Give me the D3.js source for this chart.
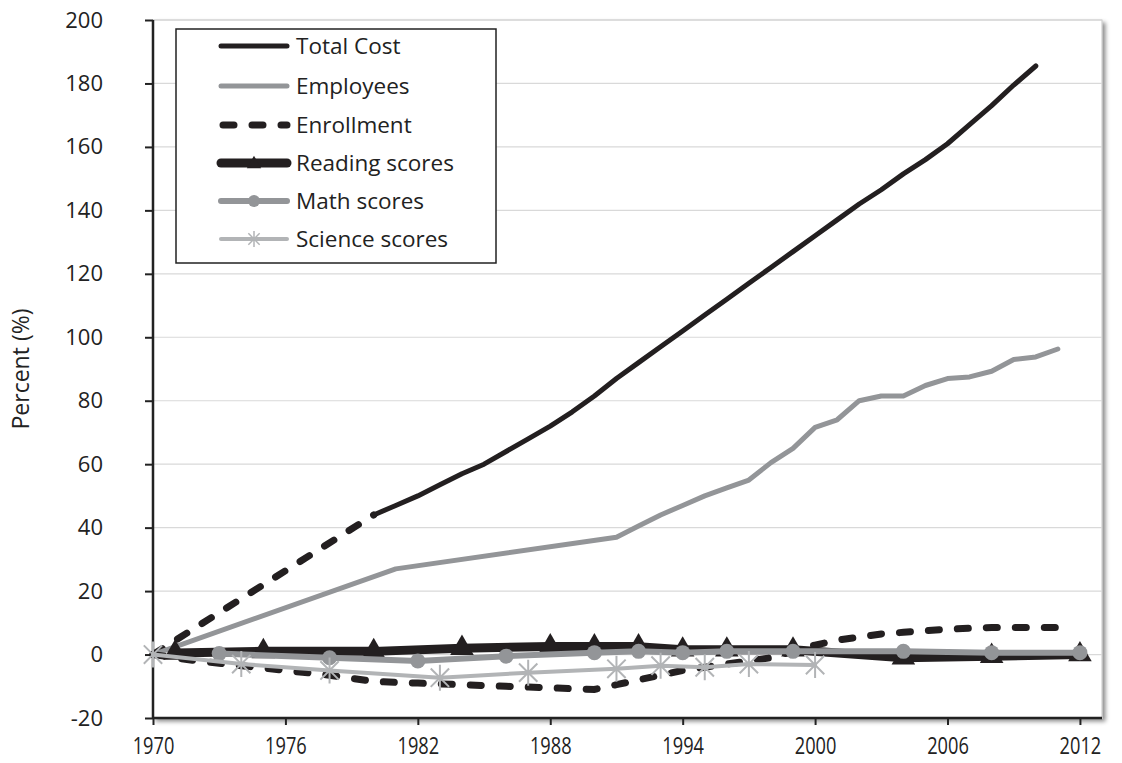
<!DOCTYPE html>
<html>
<head>
<meta charset="utf-8">
<script src="https://cdn.jsdelivr.net/npm/d3@7"></script>
<style>
  body { margin: 0; background: #fff; }
  .legend text { font-family: "Open Sans", sans-serif; font-size: 22.5px; fill: #222; }
</style>
</head>
<body>
<div id="chart"></div>
<script>
// values (percent change since 1970)
var costYears  = [1970, 1975, 1980, 1981, 1982, 1983, 1984, 1985, 1986, 1987, 1988, 1989, 1990, 1991, 1992, 1993, 1994, 1995, 1996, 1997, 1998, 1999, 2000, 2001, 2002, 2003, 2004, 2005, 2006, 2007, 2008, 2009, 2010];
var costValues = [0, 22, 44, 47, 50, 53.5, 57, 60, 64, 68, 72, 76.5, 81.5, 87, 92, 97, 102, 107, 112, 117, 122, 127, 132, 137, 142, 146.5, 151.5, 156, 161, 167, 173, 179.5, 185.5];
var costDashedUntil = 1980;

var empYears  = [1970, 1981, 1991, 1992, 1993, 1994, 1995, 1996, 1997, 1998, 1999, 2000, 2001, 2002, 2003, 2004, 2005, 2006, 2007, 2008, 2009, 2010, 2011];
var empValues = [0, 27, 37, 40.5, 44, 47, 50, 52.5, 55, 60.5, 65, 71.6, 74, 80, 81.5, 81.5, 84.8, 87, 87.5, 89.3, 93, 93.8, 96.3];

var enrYears  = [1970, 1972, 1974, 1976, 1978, 1980, 1982, 1984, 1986, 1988, 1990, 1991, 1992, 1993, 1994, 1995, 1996, 1997, 1998, 1999, 2000, 2001, 2002, 2003, 2004, 2005, 2006, 2007, 2008, 2009, 2010, 2011];
var enrValues = [0, -2, -3.5, -5, -6.5, -8.5, -9, -9.5, -10, -10.5, -11, -9.5, -8, -6.5, -5, -4, -3, -2, -1, 1, 3, 4.5, 5.5, 6.5, 7, 7.5, 8, 8.3, 8.5, 8.5, 8.5, 8.5];

var readYears  = [1971, 1975, 1980, 1984, 1988, 1990, 1992, 1994, 1996, 1999, 2004, 2008, 2012];
var readValues = [0.5, 1, 1, 2, 2.5, 2.5, 2.5, 1.5, 1.5, 1.5, -1, -0.5, 0];

var mathYears  = [1973, 1978, 1982, 1986, 1990, 1992, 1994, 1996, 1999, 2004, 2008, 2012];
var mathValues = [0.3, -1, -2, -0.5, 0.6, 1, 0.6, 1, 1, 1, 0.6, 0.6];

var sciYears  = [1970, 1974, 1978, 1983, 1987, 1991, 1993, 1995, 1997, 2000];
var sciValues = [0, -3, -5, -7.3, -5.7, -4.5, -3.5, -4, -3, -3.3];

var xTicks = [1970, 1976, 1982, 1988, 1994, 2000, 2006, 2012];
var yTicks = [-20, 0, 20, 40, 60, 80, 100, 120, 140, 160, 180, 200];
var legendNames = ["Total Cost", "Employees", "Enrollment", "Reading scores", "Math scores", "Science scores"];

var margin = {top: 20, right: 20, bottom: 45, left: 153};
var width = 949, height = 698;

function pairs(years, values) {
  return years.map(function(y, i) { return {year: y, value: values[i]}; });
}

var svg = d3.select("#chart").append("svg")
  .attr("width", 1122).attr("height", 763);

var defs = svg.append("defs");
var f = defs.append("filter").attr("id", "shadow")
  .attr("x", "-5%").attr("y", "-5%").attr("width", "110%").attr("height", "110%");
f.append("feDropShadow").attr("dx", 3).attr("dy", 3).attr("stdDeviation", 2)
  .attr("flood-color", "#000").attr("flood-opacity", 0.45);

var g = svg.append("g").attr("transform", "translate(" + margin.left + "," + margin.top + ")");

var x = d3.scaleLinear().domain([1970, 2013]).range([0, width]);
var y = d3.scaleLinear().domain([-20, 200]).range([height, 0]);

// plot area with shadow
g.append("rect").attr("width", width).attr("height", height)
  .attr("fill", "#fff").attr("stroke", "#c4c4c4").attr("stroke-width", 1)
  .attr("filter", "url(#shadow)");

// gridlines
g.append("g").selectAll("line")
  .data(yTicks.filter(function(d) { return d > -20; }))
  .enter().append("line")
  .attr("x1", 0).attr("x2", width)
  .attr("y1", function(d) { return y(d); }).attr("y2", function(d) { return y(d); })
  .attr("stroke", "#d9d9d9").attr("stroke-width", 1.2);

// axes
var yAxis = g.append("g")
  .call(d3.axisLeft(y).tickValues(yTicks).tickSize(8).tickPadding(42)
    .tickFormat(function(d) { return String(d); }));
var xAxis = g.append("g")
  .attr("transform", "translate(0," + height + ")")
  .call(d3.axisBottom(x).tickValues(xTicks).tickSize(7).tickPadding(12).tickFormat(d3.format("d")));
[yAxis, xAxis].forEach(function(a) {
  a.select(".domain").attr("stroke", "#222").attr("stroke-width", 2.5);
  a.selectAll(".tick line").attr("stroke", "#222").attr("stroke-width", 2);
  a.selectAll(".tick text").style("font-family", "Open Sans, sans-serif").style("fill", "#222");
});
xAxis.select(".domain").attr("d", "M0,0H" + width);
yAxis.select(".domain").attr("d", "M0,0V" + height);
yAxis.selectAll(".tick text").style("font-size", "22px");
// the year labels are narrow in the original
xAxis.selectAll(".tick text").style("font-size", "24px").attr("transform", "scale(0.76,1)");

svg.append("text")
  .attr("transform", "translate(29," + (margin.top + y(90)) + ") rotate(-90)")
  .attr("text-anchor", "middle")
  .style("font-family", "Open Sans, sans-serif").style("font-size", "23px").style("fill", "#222")
  .text("Percent (%)");

var line = d3.line().x(function(d) { return x(d.year); }).y(function(d) { return y(d.value); });

var cost = pairs(costYears, costValues);
var emp = pairs(empYears, empValues);
var enr = pairs(enrYears, enrValues);
var read = pairs(readYears, readValues);
var math = pairs(mathYears, mathValues);
var sci = pairs(sciYears, sciValues);

// Total Cost: dashed early part, solid after
g.append("path").datum(cost.filter(function(d) { return d.year <= costDashedUntil; }))
  .attr("d", line).attr("fill", "none").attr("stroke", "#231f20").attr("stroke-width", 7)
  .attr("stroke-dasharray", "11,18").attr("stroke-linecap", "round");
g.append("path").datum(cost.filter(function(d) { return d.year >= costDashedUntil; }))
  .attr("d", line).attr("fill", "none").attr("stroke", "#231f20").attr("stroke-width", 5)
  .attr("stroke-linecap", "round").attr("stroke-linejoin", "round");

// Employees
g.append("path").datum(emp).attr("d", line).attr("fill", "none")
  .attr("stroke", "#939598").attr("stroke-width", 5)
  .attr("stroke-linecap", "round").attr("stroke-linejoin", "round");

// Enrollment
g.append("path").datum(enr).attr("d", line).attr("fill", "none")
  .attr("stroke", "#231f20").attr("stroke-width", 7)
  .attr("stroke-dasharray", "11,18").attr("stroke-linecap", "round");

// Reading
g.append("path").datum(read).attr("d", line).attr("fill", "none")
  .attr("stroke", "#231f20").attr("stroke-width", 9)
  .attr("stroke-linecap", "round").attr("stroke-linejoin", "round");
var tri = d3.symbol().type(d3.symbolTriangle).size(240);
g.append("g").selectAll("path").data(read).enter().append("path")
  .attr("d", tri)
  .attr("transform", function(d) { return "translate(" + x(d.year) + "," + y(d.value) + ")"; })
  .attr("fill", "#231f20");

// Math
g.append("path").datum(math).attr("d", line).attr("fill", "none")
  .attr("stroke", "#939598").attr("stroke-width", 6)
  .attr("stroke-linecap", "round").attr("stroke-linejoin", "round");
g.append("g").selectAll("circle").data(math).enter().append("circle")
  .attr("cx", function(d) { return x(d.year); })
  .attr("cy", function(d) { return y(d.value); })
  .attr("r", 7.5).attr("fill", "#939598");

// Science
function starPath(s) {
  var d = s * 0.7071;
  return "M0," + (-s) + "V" + s +
    "M" + (-d) + "," + (-d) + "L" + d + "," + d +
    "M" + (-d) + "," + d + "L" + d + "," + (-d);
}
g.append("path").datum(sci).attr("d", line).attr("fill", "none")
  .attr("stroke", "#b2b4b6").attr("stroke-width", 4)
  .attr("stroke-linecap", "round").attr("stroke-linejoin", "round");
g.append("g").selectAll("path").data(sci).enter().append("path")
  .attr("d", starPath(13))
  .attr("transform", function(d) { return "translate(" + x(d.year) + "," + y(d.value) + ")"; })
  .attr("stroke", "#b2b4b6").attr("stroke-width", 2).attr("fill", "none");

// legend
var legend = svg.append("g").attr("class", "legend");
legend.append("rect").attr("x", 176).attr("y", 29).attr("width", 320).attr("height", 234)
  .attr("fill", "#fff").attr("stroke", "#222").attr("stroke-width", 1.5);
var rowY = [46, 86, 125, 163, 201, 239];
var styles = [
  {stroke: "#231f20", w: 5, dash: null},
  {stroke: "#939598", w: 5, dash: null},
  {stroke: "#231f20", w: 7, dash: "11,18"},
  {stroke: "#231f20", w: 9, dash: null},
  {stroke: "#939598", w: 6, dash: null},
  {stroke: "#b2b4b6", w: 4, dash: null}
];
legendNames.forEach(function(name, i) {
  var ly = rowY[i];
  var l = legend.append("line").attr("x1", 221).attr("x2", 287).attr("y1", ly).attr("y2", ly)
    .attr("stroke", styles[i].stroke).attr("stroke-width", styles[i].w).attr("stroke-linecap", "round");
  if (styles[i].dash) l.attr("stroke-dasharray", styles[i].dash).attr("x1", 223);
  legend.append("text").attr("x", 296).attr("y", ly + 8).text(name);
});
legend.append("path").attr("d", d3.symbol().type(d3.symbolTriangle).size(90))
  .attr("transform", "translate(254," + (rowY[3] + 1) + ")").attr("fill", "#231f20");
legend.append("circle").attr("cx", 254).attr("cy", rowY[4]).attr("r", 6).attr("fill", "#939598");
legend.append("path").attr("d", starPath(8))
  .attr("transform", "translate(254," + rowY[5] + ")")
  .attr("stroke", "#b2b4b6").attr("stroke-width", 1.5).attr("fill", "none");
</script>
</body>
</html>
